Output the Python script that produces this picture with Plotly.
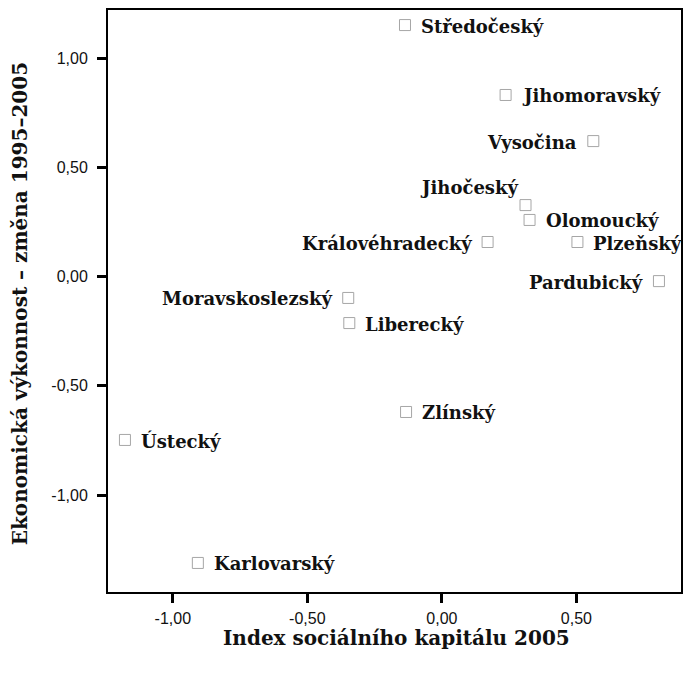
import plotly.graph_objects as go

# Data
regions = ["Středočeský", "Jihomoravský", "Vysočina", "Jihočeský", "Olomoucký",
           "Královéhradecký", "Plzeňský", "Pardubický", "Moravskoslezský",
           "Liberecký", "Zlínský", "Ústecký", "Karlovarský"]
social_capital = [-0.137, 0.237, 0.563, 0.311, 0.326, 0.170, 0.504, 0.807,
                  -0.348, -0.344, -0.133, -1.178, -0.907]
econ_change = [1.151, 0.831, 0.620, 0.327, 0.259, 0.158, 0.158, -0.021,
               -0.098, -0.213, -0.620, -0.748, -1.311]
label_side = ["right", "right", "left", "topleft", "right", "left", "right",
              "left", "left", "right", "right", "right", "right"]

x_ticks = [-1.0, -0.5, 0.0, 0.5]
x_tick_labels = ["-1,00", "-0,50", "0,00", "0,50"]
y_ticks = [1.0, 0.5, 0.0, -0.5, -1.0]
y_tick_labels = ["1,00", "0,50", "0,00", "-0,50", "-1,00"]

label_font = dict(family="DejaVu Serif", size=18, color="#111111")
title_font = dict(family="DejaVu Serif", size=20, color="#111111")

fig = go.Figure()
fig.add_trace(go.Scatter(
    x=social_capital, y=econ_change, mode="markers",
    marker=dict(symbol="square-open", size=11, color="#a6a6a6",
                line=dict(width=1, color="#a6a6a6")),
    hoverinfo="skip", showlegend=False,
))

annotations = []
for name, xv, yv, side in zip(regions, social_capital, econ_change, label_side):
    if side == "right":
        a = dict(xanchor="left", xshift=14, yshift=-1)
    elif side == "left":
        a = dict(xanchor="right", xshift=-14, yshift=-1)
    else:
        a = dict(xanchor="right", xshift=-6, yshift=18)
    annotations.append(dict(x=xv, y=yv, xref="x", yref="y", text="<b>%s</b>" % name,
                            showarrow=False, yanchor="middle", font=label_font, **a))

annotations.append(dict(x=0.503, y=-0.079, xref="paper", yref="paper",
                        text="<b>Index sociálního kapitálu 2005</b>", showarrow=False,
                        xanchor="center", yanchor="middle", font=title_font))
annotations.append(dict(x=-0.153, y=0.495, xref="paper", yref="paper",
                        text="<b>Ekonomická výkonnost – změna 1995–2005</b>", showarrow=False,
                        textangle=-90, xanchor="center", yanchor="middle", font=title_font))

axis_common = dict(showgrid=False, zeroline=False, showline=True, linewidth=2,
                   linecolor="black", mirror=True, ticks="outside", ticklen=9,
                   tickwidth=3, tickcolor="black",
                   tickfont=dict(family="Liberation Sans", size=16, color="#111111"))

fig.update_layout(
    width=686, height=674,
    margin=dict(l=108, r=3, t=10, b=82),
    paper_bgcolor="white", plot_bgcolor="white",
    xaxis=dict(range=[-1.241, 0.889], tickvals=x_ticks, ticktext=x_tick_labels,
               ticklabelstandoff=2, **axis_common),
    yaxis=dict(range=[-1.444, 1.220], tickvals=y_ticks, ticktext=y_tick_labels,
               ticklabelstandoff=6, **axis_common),
    annotations=annotations,
)

fig.write_html("out.html", config={"displayModeBar": False},
               post_script="document.body.style.margin='0';"
                           "document.documentElement.style.overflow='hidden';")
